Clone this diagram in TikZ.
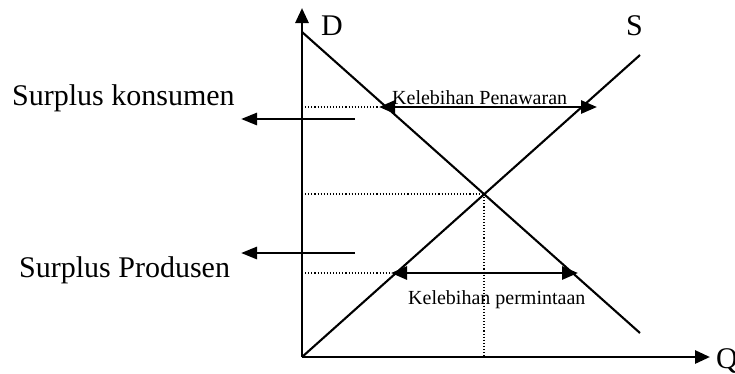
\documentclass[tikz,border=0pt]{standalone}
\usepackage{fontspec}
\setmainfont{Liberation Serif}
\usetikzlibrary{arrows.meta}
\begin{document}
\begin{tikzpicture}[x=1pt,y=-1pt,
  axis/.style={line width=2.8pt,-{Triangle[length=15pt,width=13pt]}},
  curve/.style={line width=2.1pt},
  guide/.style={line width=1.1pt,dotted},
  gap/.style={line width=2.8pt,{Triangle[length=16pt,width=13pt]}-{Triangle[length=16pt,width=13pt]}},
  leftarr/.style={line width=2.8pt,-{Triangle[length=16pt,width=12pt]}},
  big/.style={inner sep=0pt,font=\fontsize{30}{30}\selectfont},
  small/.style={inner sep=0pt,font=\fontsize{20}{20}\selectfont}]
\useasboundingbox (0,0) rectangle (735,373);
% key points
\coordinate (O) at (302,357);
\coordinate (Ytop) at (302,8);
\coordinate (Xend) at (710,357);
\coordinate (Dstart) at (302,32);
\coordinate (Dend) at (640,333);
\coordinate (Send) at (640,55);
\coordinate (E) at (484,194);
\coordinate (Ey) at (302,194);
\coordinate (Ex) at (484,357);
\coordinate (U0) at (302,107);
\coordinate (UL) at (379,107);
\coordinate (UR) at (597,107);
\coordinate (L0) at (302,273);
\coordinate (LL) at (391,273);
\coordinate (LR) at (578,273);
\coordinate (A1s) at (355,119);
\coordinate (A1e) at (241,119);
\coordinate (A2s) at (355,253);
\coordinate (A2e) at (241,253);
% guides
\draw[guide] (Ey) -- (E);
\draw[guide] (E) -- (Ex);
\draw[guide] (U0) -- (UL);
\draw[guide] (L0) -- (LL);
% curves
\draw[curve] (Dstart) -- (Dend);
\draw[curve] (O) -- (Send);
% axes
\draw[axis] (O) -- (Ytop);
\draw[axis] (O) -- (Xend);
% gap arrows
\draw[gap] (UL) -- (UR);
\draw[gap] (LL) -- (LR);
% left arrows
\draw[leftarr] (A1s) -- (A1e);
\draw[leftarr] (A2s) -- (A2e);
% labels
\node[big,anchor=base west] (lD) at (321,35) {D};
\node[big,anchor=base west] (lS) at (626,35) {S};
\node[big,anchor=base west] (lQ) at (716,368) {Q};
\node[big,anchor=base west] (lsk) at (12,105) {Surplus konsumen};
\node[big,anchor=base west] (lsp) at (19,277) {Surplus Produsen};
\node[small,anchor=base west] (lkp) at (392,104) {Kelebihan Penawaran};
\node[small,anchor=base west] (lkm) at (408,304) {Kelebihan permintaan};
\end{tikzpicture}
\end{document}
